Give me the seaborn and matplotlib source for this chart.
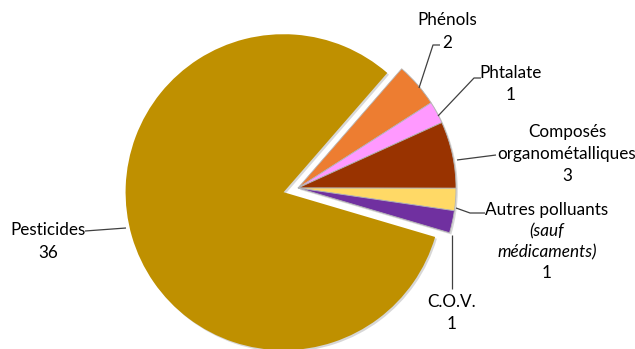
import matplotlib
matplotlib.use("Agg")
import matplotlib.pyplot as plt
import seaborn as sns

categories = ["Phénols", "Phtalate", "Composés organométalliques",
              "Autres polluants (sauf médicaments)", "C.O.V.", "Pesticides"]
values = [2, 1, 3, 1, 1, 36]
colors = ["#ED7D31", "#FF99FF", "#993300", "#FFD966", "#7030A0", "#BF9000"]
explode = [0, 0, 0, 0, 0, 0.095]

sns.set_theme(style="white")
plt.rcParams["font.family"] = ["Lato", "DejaVu Sans"]

W, H = 635, 349
fig = plt.figure(figsize=(W / 100, H / 100), dpi=100)
ax = fig.add_axes([0, 0, 1, 1])

# pie centre at pixel (298, 188) with radius 158 px
cx, cy, r = 298, 188, 158
wedges, _ = ax.pie(values, colors=colors, explode=explode, startangle=49,
                   counterclock=False, radius=1,
                   wedgeprops=dict(linewidth=0),
                   shadow=dict(ox=0.008, oy=-0.008, facecolor="#a8a8a8", alpha=0.45))
for w in wedges[:-1]:
    w.set_edgecolor("#b5b5b5")
    w.set_linewidth(0.6)

ax.set_xlim(-cx / r, (W - cx) / r)
ax.set_ylim(-(H - cy) / r, cy / r)
ax.set_aspect("equal", adjustable="box")
ax.axis("off")


def d(px, py):
    # pixel (from top-left) -> data coords
    return (px - cx) / r, (cy - py) / r


def leader(points):
    xs, ys = zip(*[d(*p) for p in points])
    ax.plot(xs, ys, color="#404040", lw=0.9, solid_capstyle="butt")


def txt(px, py, s, **kw):
    x, y = d(px, py)
    ax.text(x, y, s, ha="center", va="center", fontsize=12.3, color="#000000", **kw)


# labels
txt(447, 20, "Phénols"); txt(447, 43, str(values[0]))
leader([(419, 88), (433, 45), (440, 45)])

txt(511, 73, "Phtalate"); txt(511, 95, str(values[1]))
leader([(438, 116), (474, 78), (481, 78)])

txt(567, 132, "Composés"); txt(567, 154, "organométalliques"); txt(567, 176, str(values[2]))
leader([(457, 160), (496, 155)])

txt(547, 210, "Autres polluants")
txt(547, 231, "(sauf", style="italic")
txt(547, 252, "médicaments)", style="italic")
txt(547, 273, str(values[3]))
leader([(456, 208), (470, 213), (485, 213)])

txt(452, 302, "C.O.V."); txt(452, 324, str(values[4]))
leader([(452, 235), (452, 289)])

txt(48, 230, "Pesticides"); txt(48, 253, str(values[5]))
leader([(85, 231), (126, 228)])

fig.savefig("out.png", dpi=100)
